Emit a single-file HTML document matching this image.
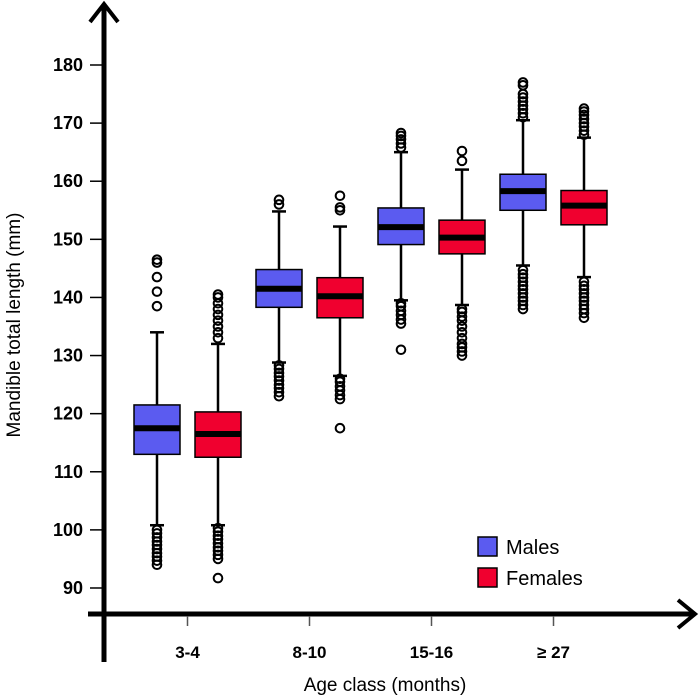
<!DOCTYPE html>
<html><head><meta charset="utf-8"><style>body{margin:0;background:#fff}svg{display:block}</style></head>
<body>
<svg id="chart" width="700" height="695" viewBox="0 0 700 695" xmlns="http://www.w3.org/2000/svg" font-family="Liberation Sans, sans-serif">
<g id="axes"></g>
<g id="marks"></g>
<g>
<rect x="478" y="537" width="19" height="19" fill="#5b5bf0" stroke="#000" stroke-width="1.5"/>
<text x="506" y="554" font-size="20">Males</text>
<rect x="478" y="568" width="19" height="19" fill="#f0002f" stroke="#000" stroke-width="1.5"/>
<text x="506" y="585" font-size="20">Females</text>
</g>
<text x="385" y="691" font-size="19" text-anchor="middle">Age class (months)</text>
<text transform="translate(20,325) rotate(-90)" font-size="19" text-anchor="middle">Mandible total length (mm)</text>
</svg>
<script>
const categories = ["3-4","8-10","15-16","≥ 27"];
const yTicks = [90,100,110,120,130,140,150,160,170,180];
const maleQ1 = [113,138.3,149.1,155];
const maleMed = [117.5,141.5,152.1,158.3];
const maleQ3 = [121.5,144.8,155.4,161.2];
const maleLow = [100.8,128.8,139.5,145.5];
const maleHigh = [134,154.8,165,170.5];
const maleOut = [[94,94.7,95.4,96,96.7,97.4,98,98.7,99.4,100,138.5,141,143.5,146,146.5],[123,123.7,124.4,125,125.7,126.4,127,127.7,128.3,156,156.8],[131,135.5,136.2,137,137.7,138.5,139,165.8,166.5,167.2,167.8,168.3],[138,138.7,139.4,140,140.7,141.4,142,142.7,143.4,144,144.7,171,171.7,172.4,173,173.7,174.4,175,176.5,177]];
const femaleQ1 = [112.5,136.5,147.5,152.5];
const femaleMed = [116.5,140.2,150.3,155.8];
const femaleQ3 = [120.3,143.4,153.3,158.4];
const femaleLow = [100.8,126.5,138.7,143.5];
const femaleHigh = [132,152.2,162,167.5];
const femaleOut = [[91.7,95,95.7,96.4,97,97.7,98.4,99,99.7,100.3,133,134,135,136,137,138,139,140,140.5],[117.5,122.5,123.2,124,124.7,125.5,126,155,155.5,157.5],[130,130.7,131.4,132,133,134,135,136,136.7,137.5,138,163.5,165.2],[136.5,137.3,138,138.7,139.4,140,140.7,141.4,142,142.7,168,168.7,169.4,170,170.7,171.4,172,172.5]];

const NS="http://www.w3.org/2000/svg";
function y(v){return 65+(180-v)*5.811;}
function xc(i,s){return 157+i*122+s*61;}
function mk(tag,attrs,parent){const e=document.createElementNS(NS,tag);for(const k in attrs)e.setAttribute(k,attrs[k]);parent.appendChild(e);return e;}
const axes=document.getElementById('axes'), marks=document.getElementById('marks');
let e;
e=mk('line',{x1:104,y1:6,x2:104,y2:662,stroke:'#000','stroke-width':5},axes);


e=mk('polyline',{points:'90,22 104,4 118,22',fill:'none',stroke:'#000','stroke-width':4},axes);


e=mk('line',{x1:88,y1:614,x2:693,y2:614,stroke:'#000','stroke-width':5},axes);


e=mk('polyline',{points:'678,600 695,614 678,628',fill:'none',stroke:'#000','stroke-width':4},axes);


yTicks.forEach(t=>{
  e=mk('line',{x1:90,y1:y(t),x2:104,y2:y(t),stroke:'#000','stroke-width':1.5},axes);
  
  
  e=mk('text',{x:83,y:y(t)+6,'font-size':18,'font-weight':'bold','text-anchor':'end'},axes);
  e.textContent=t;
  
  
});
categories.forEach((c,i)=>{
  const cx=(xc(i,0)+xc(i,1))/2;
  e=mk('line',{x1:cx,y1:616,x2:cx,y2:626,stroke:'#555','stroke-width':1.5},axes);
  
  
  e=mk('text',{x:cx,y:658,'font-size':17,'font-weight':'bold','text-anchor':'middle'},axes);
  e.textContent=c;
  
  
});
function box(i,s,q1,med,q3,lo,hi,outs,color,name){
  const cx=xc(i,s),hw=23;
  const g=mk('g',{},marks);
  
  
  mk('line',{x1:cx,y1:y(hi),x2:cx,y2:y(lo),stroke:'#000','stroke-width':2.5},g);
  mk('line',{x1:cx-7,y1:y(hi),x2:cx+7,y2:y(hi),stroke:'#000','stroke-width':2.5},g);
  mk('line',{x1:cx-7,y1:y(lo),x2:cx+7,y2:y(lo),stroke:'#000','stroke-width':2.5},g);
  mk('rect',{x:cx-hw,y:y(q3),width:2*hw,height:y(q1)-y(q3),fill:color,stroke:'#000','stroke-width':1.5},g);
  mk('line',{x1:cx-hw,y1:y(med),x2:cx+hw,y2:y(med),stroke:'#000','stroke-width':6},g);
  outs.forEach(v=>{
    const o=mk('circle',{cx:cx,cy:y(v),r:4.3,fill:'none',stroke:'#000','stroke-width':2},g);
    
    
  });
}
categories.forEach((c,i)=>{
  box(i,0,maleQ1[i],maleMed[i],maleQ3[i],maleLow[i],maleHigh[i],maleOut[i],'#5b5bf0','box-males-'+i);
  box(i,1,femaleQ1[i],femaleMed[i],femaleQ3[i],femaleLow[i],femaleHigh[i],femaleOut[i],'#f0002f','box-females-'+i);
});
</script>
</body></html>
